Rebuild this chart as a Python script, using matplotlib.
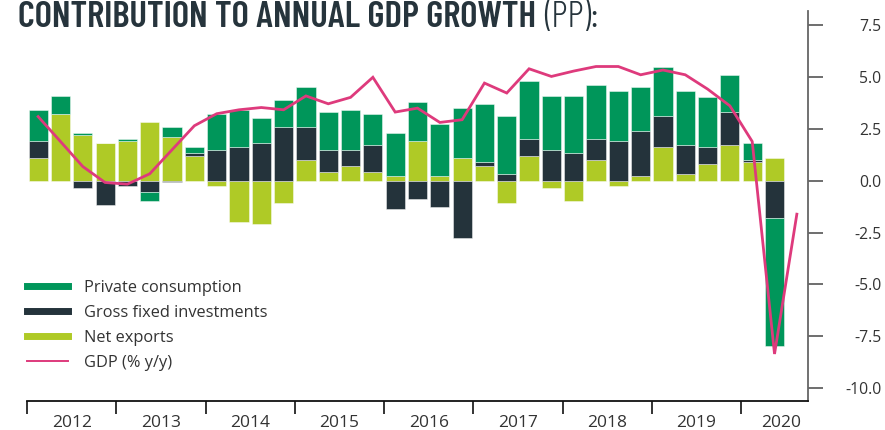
import numpy as np
import matplotlib.pyplot as plt
from matplotlib.lines import Line2D

# quarterly contributions, 2012Q1 .. 2020Q2 (pp)
net_exports = [1.11, 3.22, 2.22, 1.82, 1.92, 2.82, 2.14, 1.22, -0.27, -1.98, -2.08, -1.05,
               1.01, 0.42, 0.72, 0.42, 0.21, 1.92, 0.21, 1.11, 0.72, -1.08, 1.22, -0.37,
               -0.98, 1.01, -0.27, 0.21, 1.63, 0.32, 0.82, 1.72, 0.92, 1.11]
investments = [0.82, 0.0, -0.37, -1.18, -0.27, -0.56, -0.08, 0.10, 1.51, 1.61, 1.82, 2.61,
               1.57, 1.09, 0.79, 1.30, -1.37, -0.89, -1.27, -2.77, 0.20, 0.32, 0.81, 1.51,
               1.32, 1.02, 1.92, 2.21, 1.49, 1.40, 0.81, 1.60, 0.09, -1.80]
consumption = [1.48, 0.90, 0.11, 0.0, 0.09, -0.42, 0.47, 0.29, 1.71, 1.80, 1.21, 1.30,
               1.93, 1.81, 1.90, 1.50, 2.11, 1.90, 2.51, 2.40, 2.80, 2.80, 2.78, 2.61,
               2.80, 2.59, 2.40, 2.10, 2.40, 2.60, 2.40, 1.80, 0.81, -6.17]
# GDP growth y/y, 2012Q1 .. 2020Q3
gdp = [3.1, 1.9, 0.69, -0.08, -0.16, 0.34, 1.5, 2.66, 3.24, 3.43, 3.54, 3.43,
       4.1, 3.72, 4.03, 5.0, 3.32, 3.51, 2.82, 2.95, 4.72, 4.24, 5.41, 5.04,
       5.3, 5.52, 5.52, 5.12, 5.35, 5.12, 4.43, 3.62, 1.9, -8.36, -1.61]
years = ['2012', '2013', '2014', '2015', '2016', '2017', '2018', '2019', '2020']
y_ticks = [7.5, 5.0, 2.5, 0.0, -2.5, -5.0, -7.5, -10.0]

c_pc = '#00965a'
c_gfi = '#24333b'
c_nx = '#afca26'
c_gdp = '#de3a7c'
txt = '#333333'

plt.rcParams['font.family'] = ['Open Sans', 'DejaVu Sans']

fig = plt.figure(figsize=(8.85, 4.30), dpi=100)
ax = fig.add_axes([27 / 885, 29 / 430, 781 / 885, 390 / 430])

x = np.arange(len(net_exports)) + 0.5
pos = np.zeros(len(x))
neg = np.zeros(len(x))
for vals, col in [(net_exports, c_nx), (investments, c_gfi), (consumption, c_pc)]:
  v = np.array(vals)
  bottom = np.where(v >= 0, pos, neg)
  ax.bar(x, v, bottom=bottom, width=0.86, color=col, edgecolor=(1, 1, 1, 0.45), linewidth=0.7)
  pos = pos + np.clip(v, 0, None)
  neg = neg + np.clip(v, None, 0)

ax.plot(np.arange(len(gdp)) + 0.5, gdp, color=c_gdp, lw=2.0, solid_joinstyle='miter')

ax.set_xlim(0, 35)
ax.set_ylim(-10.63, 8.2)

# y axis on the right
ax.yaxis.tick_right()
ax.set_yticks(y_ticks)
ax.set_yticklabels(['%.1f' % t for t in y_ticks], ha='right')
ax.tick_params(axis='y', length=11, width=1.2, color='#555555', pad=42,
               labelsize=11.3, labelcolor=txt)
for s in ['top', 'left']:
  ax.spines[s].set_visible(False)
ax.spines['right'].set_color('#666666')
ax.spines['right'].set_linewidth(1.3)
ax.spines['bottom'].set_color('#111111')
ax.spines['bottom'].set_linewidth(1.3)

# years: boundary ticks + centred labels
ax.set_xticks(np.arange(0, 33, 4), minor=True)
ax.set_xticks([2, 6, 10, 14, 18, 22, 26, 30, 33.8])
ax.set_xticklabels(years)
ax.tick_params(axis='x', which='major', length=0, pad=10, labelsize=12.5, labelcolor=txt)
ax.tick_params(axis='x', which='minor', length=9, width=1.2, color='#111111')

handles = [Line2D([], [], color=c_pc, lw=5),
           Line2D([], [], color=c_gfi, lw=5),
           Line2D([], [], color=c_nx, lw=5),
           Line2D([], [], color=c_gdp, lw=1.4)]
labels = ['Private consumption', 'Gross fixed investments', 'Net exports', 'GDP (% y/y)']
ax.legend(handles, labels, loc='upper left', bbox_to_anchor=(0, 0.31), frameon=False,
          borderpad=0, borderaxespad=0, handlelength=2.5, handletextpad=0.95,
          labelspacing=0.54, fontsize=11.8, labelcolor=txt)

# title in a condensed face, fitted to the reference width
t1 = fig.text(18 / 885, 1 - 27 / 430, 'CONTRIBUTION TO ANNUAL GDP GROWTH',
              family='Barlow Condensed', weight=600,
              fontsize=24, color='#26343c', va='baseline')
fig.canvas.draw()
r = fig.canvas.get_renderer()
w = t1.get_window_extent(r).width
t1.set_fontsize(24 * 517 / w)
fig.canvas.draw()
bb = t1.get_window_extent(r)
fig.text((bb.x1 + 8) / 885, 1 - 27 / 430, '(PP):',
         family='Barlow Condensed', weight=300,
         fontsize=t1.get_fontsize(), color='#26343c', va='baseline')

fig.savefig('out.png', dpi=100)
